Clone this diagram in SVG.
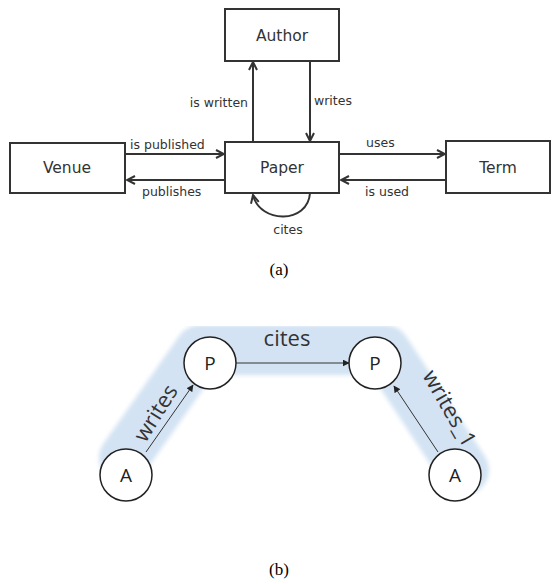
<svg xmlns="http://www.w3.org/2000/svg" width="558" height="584" viewBox="0 0 558 584">
<style>
.box{fill:#fff;stroke:#333;stroke-width:2}
.lbl{font-family:"DejaVu Sans",sans-serif;font-size:15.5px;fill:#333}
.sm{font-family:"DejaVu Sans",sans-serif;font-size:12.5px;fill:#333}
.edge{stroke:#333;stroke-width:2;fill:none}
.cap{font-family:"Liberation Serif",serif;font-size:17px;fill:#000}
.circ{fill:#fff;stroke:#222;stroke-width:1.5}
.cl{font-family:"Open Sans","Liberation Sans",sans-serif;font-size:19px;fill:#222}
.bl{font-family:"Open Sans","Liberation Sans",sans-serif;font-size:22px;fill:#333}
.thin{stroke:#333;stroke-width:1;fill:none}
</style>
<defs>
<marker id="open" viewBox="0 0 10 10" refX="9" refY="5" markerWidth="10" markerHeight="10" markerUnits="userSpaceOnUse" orient="auto">
<path d="M1,1 L9,5 L1,9" fill="none" stroke="#333" stroke-width="2"/>
</marker>
<marker id="tri" viewBox="0 0 10 10" refX="9" refY="5" markerWidth="7" markerHeight="7" markerUnits="userSpaceOnUse" orient="auto">
<path d="M0,0 L10,5 L0,10 Z" fill="#222"/>
</marker>
<filter id="soft" x="-20%" y="-20%" width="140%" height="140%"><feGaussianBlur stdDeviation="2"/></filter>
</defs>

<g id="highlight">
<polyline points="124,458 200,350 385,350 464,470" fill="none" stroke="#d3e3f3" stroke-width="50" stroke-linejoin="round" stroke-linecap="round" filter="url(#soft)"/>
</g>

<g id="connectors">
<line class="edge" x1="253" y1="142" x2="253" y2="62" marker-end="url(#open)"/>
<line class="edge" x1="310" y1="61" x2="310" y2="141" marker-end="url(#open)"/>
<line class="edge" x1="126" y1="154" x2="224" y2="154" marker-end="url(#open)"/>
<line class="edge" x1="225" y1="180" x2="127" y2="180" marker-end="url(#open)"/>
<line class="edge" x1="340" y1="154" x2="445" y2="154" marker-end="url(#open)"/>
<line class="edge" x1="446" y1="180" x2="341" y2="180" marker-end="url(#open)"/>
<path class="edge" d="M310,193 C308,224 260,224 253,195" marker-end="url(#open)"/>
<line class="thin" x1="146" y1="452" x2="193" y2="385" marker-end="url(#tri)"/>
<line class="thin" x1="236" y1="363" x2="349" y2="363" marker-end="url(#tri)"/>
<line class="thin" x1="438" y1="452" x2="394" y2="386" marker-end="url(#tri)"/>
</g>
<g id="edge-labels">
<text class="sm" x="248" y="107" text-anchor="end">is written</text>
<text class="sm" x="314" y="105">writes</text>
<text class="sm" x="130" y="149">is published</text>
<text class="sm" x="142" y="196">publishes</text>
<text class="sm" x="366" y="147">uses</text>
<text class="sm" x="365" y="196">is used</text>
<text class="sm" x="288" y="234" text-anchor="middle">cites</text>
<text class="bl" x="287" y="346" text-anchor="middle">cites</text>
<text class="bl" transform="translate(162,417) rotate(-58)" text-anchor="middle">writes</text>
<text class="bl" transform="translate(443,412) rotate(60)" text-anchor="middle">writes_1</text>
</g>

<g id="node-author"><rect class="box" x="225" y="9" width="114" height="52"/><text class="lbl" x="282" y="41" text-anchor="middle">Author</text></g>
<g id="node-paper"><rect class="box" x="225" y="142" width="114" height="51"/><text class="lbl" x="282" y="173" text-anchor="middle">Paper</text></g>
<g id="node-venue"><rect class="box" x="10" y="143" width="115" height="50"/><text class="lbl" x="67" y="173" text-anchor="middle">Venue</text></g>
<g id="node-term"><rect class="box" x="446" y="141" width="104" height="52"/><text class="lbl" x="498" y="173" text-anchor="middle">Term</text></g>

<g id="node-p1"><circle class="circ" cx="210" cy="363" r="26"/><text class="cl" x="210" y="370" text-anchor="middle">P</text></g>
<g id="node-p2"><circle class="circ" cx="375" cy="363" r="26"/><text class="cl" x="375" y="370" text-anchor="middle">P</text></g>
<g id="node-a1"><circle class="circ" cx="126" cy="475" r="26"/><text class="cl" x="126" y="482" text-anchor="middle">A</text></g>
<g id="node-a2"><circle class="circ" cx="455" cy="475" r="26"/><text class="cl" x="455" y="482" text-anchor="middle">A</text></g>

<text class="cap" x="279" y="275" text-anchor="middle">(a)</text>
<text class="cap" x="279" y="575" text-anchor="middle">(b)</text>
</svg>
